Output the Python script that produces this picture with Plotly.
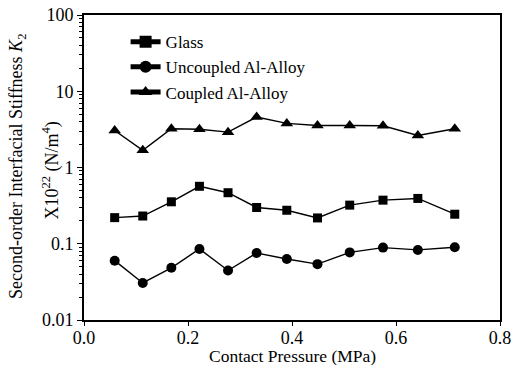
import plotly.graph_objects as go

pressure = [0.059, 0.113, 0.168, 0.222, 0.277, 0.332, 0.390, 0.449, 0.511, 0.575, 0.642, 0.713]
glass = [0.220, 0.231, 0.355, 0.567, 0.467, 0.299, 0.275, 0.218, 0.321, 0.373, 0.393, 0.244]
uncoupled = [0.060, 0.0306, 0.0484, 0.0855, 0.0446, 0.0757, 0.063, 0.054, 0.077, 0.089, 0.083, 0.090]
coupled = [3.06, 1.68, 3.22, 3.18, 2.91, 4.59, 3.79, 3.56, 3.56, 3.53, 2.63, 3.22]

y_tickvals = [0.01, 0.1, 1, 10, 100]
y_ticktext = ["0.01", "0.1", "1", "10", "100"]
x_tickvals = [0.0, 0.2, 0.4, 0.6, 0.8]
x_ticktext = ["0.0", "0.2", "0.4", "0.6", "0.8"]

minor_vals = [m * 10 ** e for e in range(-2, 2) for m in range(2, 10)]

font = "Liberation Serif"
fig = go.Figure()
series = [
    ("Glass", glass, "square", 9),
    ("Uncoupled Al-Alloy", uncoupled, "circle", 10),
    ("Coupled Al-Alloy", coupled, "triangle-up", 11),
]
for name, vals, sym, sz in series:
    fig.add_trace(go.Scatter(
        x=pressure, y=vals, name=name, mode="lines+markers",
        line=dict(color="black", width=1.4),
        marker=dict(symbol=sym, size=sz, color="black"),
    ))

fig.update_layout(
    width=512, height=365,
    margin=dict(l=84, r=12, t=15, b=45),
    paper_bgcolor="white", plot_bgcolor="white",
    font=dict(family=font, size=18, color="black"),
    showlegend=True,
    legend=dict(x=0.1, y=0.97, xanchor="left", yanchor="top",
                bgcolor="rgba(0,0,0,0)", font=dict(family=font, size=17),
                tracegroupgap=0, itemsizing="constant"),
    annotations=[
        dict(text="Second-order Interfacial Stiffness <i>K</i><sub>2</sub>",
             xref="paper", yref="paper", x=-0.1587, y=0.505, textangle=-90,
             showarrow=False, xanchor="center", yanchor="middle",
             font=dict(family=font, size=18)),
        dict(text="X10<sup>22</sup> (N/m<sup>4</sup>)",
             xref="paper", yref="paper", x=-0.0793, y=0.49, textangle=-90,
             showarrow=False, xanchor="center", yanchor="middle",
             font=dict(family=font, size=18)),
        dict(text="Contact Pressure (MPa)",
             xref="paper", yref="paper", x=0.5, y=-0.118,
             showarrow=False, xanchor="center", yanchor="middle",
             font=dict(family=font, size=17.5)),
    ],
)
fig.update_xaxes(
    range=[0, 0.8], tickvals=x_tickvals, ticktext=x_ticktext, automargin=False,
    ticklabeloverflow="allow", ticklabelstandoff=-3,
    showline=True, linecolor="black", linewidth=1.6, mirror=True,
    ticks="outside", ticklen=4, tickwidth=1.4, tickcolor="black", showgrid=False, zeroline=False,
    tickfont=dict(family=font, size=18),
)
fig.update_yaxes(
    type="log", range=[-2, 2], tickvals=y_tickvals, ticktext=y_ticktext, automargin=False,
    ticklabeloverflow="allow",
    showline=True, linecolor="black", linewidth=1.6, mirror=True,
    ticks="outside", ticklen=5, tickwidth=1.4, tickcolor="black", showgrid=False, zeroline=False,
    minor=dict(tickvals=minor_vals, ticks="outside", ticklen=3, tickcolor="black", showgrid=False),
    tickfont=dict(family=font, size=18),
)
fig.write_html(
    "out.html",
    config={"displayModeBar": False},
    post_script="document.body.style.margin='0';document.body.style.overflow='hidden';",
)
